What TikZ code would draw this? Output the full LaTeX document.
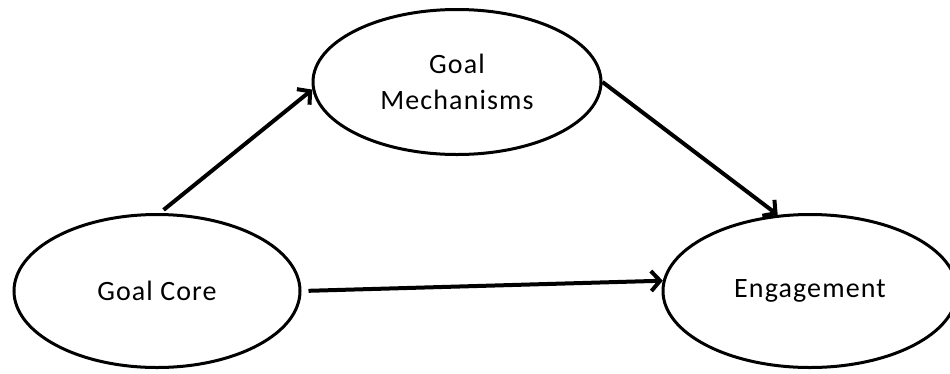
\documentclass[tikz,border=0pt]{standalone}
\usepackage{fontspec}
\setmainfont[LetterSpace=4]{Carlito}
\usetikzlibrary{shapes.geometric,arrows.meta}
\tikzset{oval/.style={ellipse,draw,line width=3pt,minimum width=286pt,minimum height=153pt,
    inner sep=0pt,align=center,font=\fontsize{28}{36}\selectfont},
    link/.style={line width=4pt,-{Straight Barb[length=9pt,width=20pt,line width=4pt]}}}

\begin{document}
\begin{tikzpicture}[x=1pt,y=-1pt]
    \useasboundingbox (0,0) rectangle (950,373);
      \node[oval] (core) at (157,291) {Goal Core};
      \node[oval,minimum width=288pt,minimum height=145pt] (mech) at (457,82) {Goal\\Mechanisms};
      \node[oval,minimum width=294pt] (eng) at (810,291) {Engagement};
      \draw[link,shorten <=5pt] (core.88) -- (mech.183);
      \draw[link] (mech.east) -- (eng.113);
      \draw[link,shorten <=7pt] (core.east) -- (eng.176);
    \end{tikzpicture}
\end{document}
